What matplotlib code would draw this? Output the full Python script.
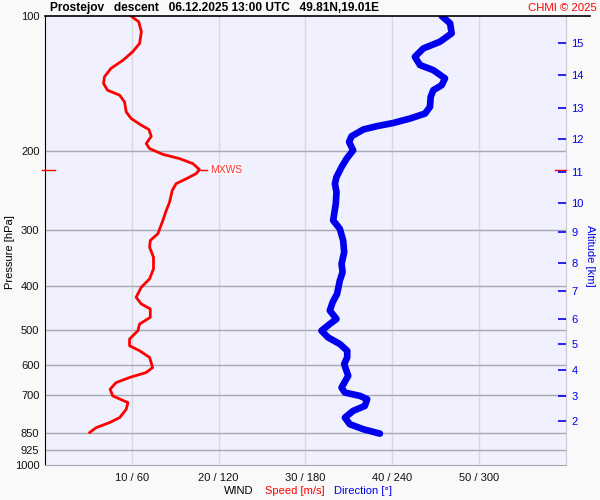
import numpy as np
import matplotlib
matplotlib.use('Agg')
import matplotlib.pyplot as plt
from matplotlib.lines import Line2D

plt.rcParams['font.family'] = ['Liberation Sans', 'DejaVu Sans']

# wind speed profile [m/s] vs pressure [hPa]
speed_pres = [100, 103.0, 108.4, 115.1, 120.1, 125.4, 130.8, 136.6, 141.3, 146.3,
              150.1, 155.3, 163.6, 169.2, 175.1, 179.0, 185.3, 192.4, 197.4, 203.3,
              207.8, 213.2, 219.9, 224.5, 230.3, 236.3, 244.6, 259.7, 271.1, 285.3,
              305.5, 316.2, 327.3, 344.6, 365.7, 385.0, 402.0, 423.2, 437.8, 449.2,
              469.0, 485.2, 502.2, 524.2, 542.5, 556.6, 576.1, 606.5, 622.3, 638.5,
              655.2, 677.8, 701.6, 726.1, 751.2, 784.3, 804.7, 825.6, 847.1]
speed = [9.9, 10.8, 11.1, 10.9, 10.1, 9.0, 7.6, 6.85, 6.74, 7.2,
         8.6, 9.16, 9.36, 9.93, 11.1, 11.97, 12.24, 11.66, 12.05, 13.58,
         15.5, 17.04, 17.8, 17.4, 16.3, 15.1, 14.66, 14.35, 13.97, 13.58,
         13.0, 12.13, 12.05, 12.5, 12.5, 12.05, 11.09, 10.5, 11.09, 12.13,
         12.13, 10.9, 10.7, 9.74, 9.74, 10.9, 12.05, 12.4, 11.66, 9.74,
         8.2, 7.5, 7.8, 9.55, 9.36, 8.6, 7.43, 5.9, 5.12]

# wind direction profile [deg] vs pressure [hPa]
dir_pres = [100, 103.8, 109.3, 114.1, 118.1, 123.3, 128.6, 132.0, 137.7, 142.6,
            146.3, 151.4, 159.4, 164.9, 169.2, 173.1, 176.0, 179.0, 185.3, 190.8,
            199.1, 207.8, 217.0, 228.4, 236.3, 246.8, 261.9, 285.3, 297.8, 316.2,
            335.8, 356.5, 372.2, 388.4, 415.9, 434.2, 453.1, 472.9, 485.2, 502.2,
            519.9, 537.8, 556.6, 576.1, 596.0, 633.0, 672.3, 689.8, 701.6, 713.5,
            738.5, 757.7, 784.3, 811.3, 832.4, 851.4]
direction = [274.2, 280, 281.1, 273, 261.5, 255.7, 259.2, 268.4, 276.5, 274.2,
             268.4, 266.6, 266.1, 262.7, 252.3, 240.7, 229.2, 220, 211.9, 210.2,
             213, 208.5, 205, 201.5, 200.4, 201.5, 201, 199.2, 203.8, 206.1,
             206.8, 205, 205.7, 203.8, 201.9, 198.8, 196.9, 201.5, 196.9, 191.1,
             195.7, 203.8, 208.9, 208.9, 206.8, 209.6, 205, 207.3, 217.7, 222.7,
             221.1, 213, 207.3, 210.7, 220, 231.5]

p_levels = [100, 200, 300, 400, 500, 600, 700, 850, 925, 1000]
speed_ticks = [10, 20, 30, 40, 50]
tick_labels = ['10 / 60', '20 / 120', '30 / 180', '40 / 240', '50 / 300']
alt_km = [2, 3, 4, 5, 6, 7, 8, 9, 10, 11, 12, 13, 14, 15]
alt_pres = [798, 701, 614, 537, 472, 409, 354, 303, 261, 223, 188, 160, 135, 115]

BG = '#f9f9f9'
PLOT_BG = '#f0f0fe'
BLUE = '#0000ee'
RED = '#ff0000'

fig = plt.figure(figsize=(6, 5), dpi=100, facecolor=BG)
ax = fig.add_axes([0.075, 0.07, 0.868, 0.898])
ax.set_facecolor(PLOT_BG)

ax.set_yscale('log')
ax.set_ylim(1000, 100)
ax.set_xlim(0, 60)
ax.set_yticks(p_levels)
ax.set_yticklabels([str(p) for p in p_levels])
ax.yaxis.set_minor_locator(matplotlib.ticker.NullLocator())
ax.set_xticks(speed_ticks)
ax.set_xticklabels(tick_labels)
ax.tick_params(axis='both', length=0, labelsize=8, colors='#111111')
ax.tick_params(axis='x', pad=6)
ax.tick_params(axis='y', pad=4)

for p in p_levels[1:-1]:
    ax.axhline(p, color='#a8a8b0', lw=1, zorder=1)
for s in speed_ticks:
    ax.axvline(s, color='#d8d8de', lw=1, zorder=0.5)

ax.spines['left'].set_color('black')
ax.spines['bottom'].set_color('#a8a8b0')
ax.spines['right'].set_color('#c8c8d2')
ax.spines['top'].set_visible(False)

ax.set_ylabel('Pressure [hPa]', fontsize=8, va='center')
ax.yaxis.set_label_coords(-0.068, 0.474)

ax.plot(speed, speed_pres, color=RED, lw=2, zorder=3, solid_capstyle='round')

# max wind marker
i_mx = int(np.argmax(speed))
p_mx = speed_pres[i_mx]
ax.plot([speed[i_mx] + 0.2, speed[i_mx] + 0.9], [p_mx, p_mx], color=RED, lw=1, zorder=3)
ax.text(speed[i_mx] + 1.2, p_mx, 'MXWS', color='#ff3333', fontsize=7.5,
        va='center', ha='left', zorder=4,
        bbox=dict(facecolor='#f8f8fc', edgecolor='none', pad=0.5))
yt = ax.get_yaxis_transform()
ax.plot([-0.005, 0.02], [p_mx, p_mx], color=RED, lw=1, transform=yt, clip_on=False, zorder=5)
ax.plot([0.979, 1.0], [p_mx, p_mx], color=RED, lw=1, transform=yt, clip_on=False, zorder=5)

# direction on a twin x axis (0..360 deg)
axd = ax.twiny()
axd.set_xlim(0, 360)
axd.set_xticks([])
for sp in axd.spines.values():
    sp.set_visible(False)
axd.plot(direction, dir_pres, color=BLUE, lw=4.8, solid_capstyle='round',
         solid_joinstyle='round', zorder=3)

# altitude axis on the right
axa = ax.twinx()
axa.set_yscale('log')
axa.set_ylim(1000, 100)
axa.set_yticks(alt_pres)
axa.set_yticklabels([str(a) for a in alt_km])
axa.yaxis.set_minor_locator(matplotlib.ticker.NullLocator())
axa.tick_params(axis='y', direction='in', length=6, width=1.2, color=BLUE,
                labelcolor=BLUE, labelsize=8, pad=4)
for sp in axa.spines.values():
    sp.set_visible(False)
axa.set_ylabel('Altitude [km]', color=BLUE, fontsize=8, rotation=270, va='center')
axa.yaxis.set_label_coords(1.047, 0.465)

# header
fig.text(50 / 600, 1 - 8 / 500, 'Prostejov   descent   06.12.2025 13:00 UTC   49.81N,19.01E',
         fontsize=8.6, fontweight='bold', va='center', ha='left')
fig.text(597 / 600, 1 - 8 / 500, 'CHMI © 2025', fontsize=8.2, color=RED,
         va='center', ha='right')
fig.add_artist(Line2D([45 / 600, 590 / 600], [1 - 16 / 500, 1 - 16 / 500],
                      color='black', lw=1.2, transform=fig.transFigure))

# footer
fy = 1 - 491 / 500
fig.text(253 / 600, fy, 'WIND', fontsize=8, ha='right', va='center')
fig.text(265 / 600, fy, 'Speed [m/s]', fontsize=8, color=RED, ha='left', va='center')
fig.text(334 / 600, fy, 'Direction [°]', fontsize=8, color=BLUE, ha='left', va='center')

fig.savefig('out.png', dpi=100, facecolor=BG)
